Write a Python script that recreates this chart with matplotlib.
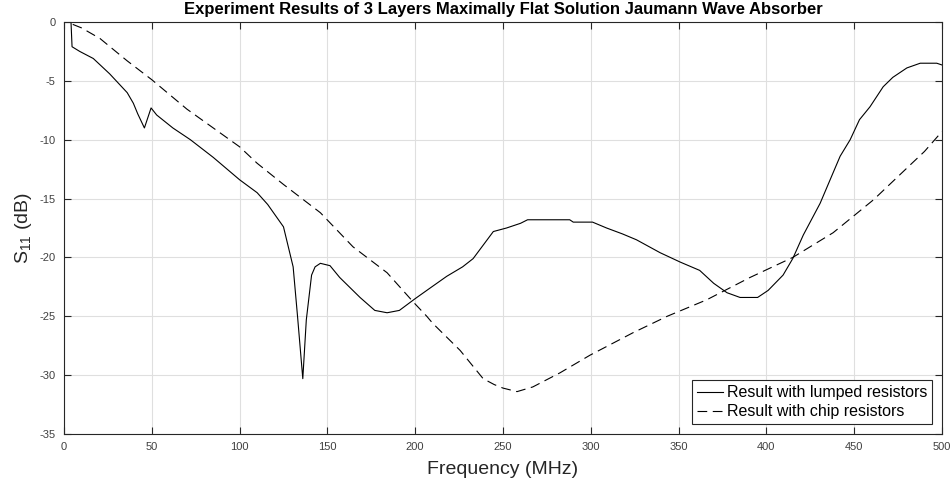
import matplotlib
matplotlib.use("Agg")
import matplotlib.pyplot as plt

plt.rcParams["font.family"] = ["Liberation Sans", "DejaVu Sans"]
plt.rcParams["mathtext.default"] = "regular"
plt.rcParams["axes.unicode_minus"] = False
plt.rcParams["lines.scale_dashes"] = False

# Measured S11, lumped resistors (MHz, dB)
lumped_f = [0, 4, 4.6, 9, 16.7, 26, 36, 39.5, 42, 45.8, 49.6, 52.8, 62, 72, 85,
            100, 110, 116, 125, 130.5, 133, 136, 138, 141, 143, 146, 151.5, 157,
            168.6, 177, 184, 191, 200, 208.5, 218, 227, 233, 241, 244.5, 252, 260,
            264, 288, 290, 301, 309, 318, 326, 339.5, 351, 362, 370, 377.6, 385,
            395, 401, 409.5, 415, 421, 430.6, 438, 442, 447.7, 453, 459, 466.5,
            472, 480, 487.6, 497, 500]
lumped_db = [0, 0, -2.1, -2.5, -3.1, -4.4, -6.0, -6.9, -7.8, -9.0, -7.3, -7.9, -9.0,
             -10.0, -11.5, -13.4, -14.5, -15.5, -17.4, -20.8, -25.0, -30.3, -25.3,
             -21.5, -20.8, -20.5, -20.7, -21.7, -23.4, -24.5, -24.7, -24.5, -23.5,
             -22.6, -21.6, -20.8, -20.1, -18.5, -17.8, -17.5, -17.1, -16.8, -16.8,
             -17.0, -17.0, -17.5, -18.0, -18.5, -19.6, -20.4, -21.1, -22.2, -23.0,
             -23.4, -23.4, -22.8, -21.5, -20.1, -18.1, -15.4, -12.8, -11.4, -10.0,
             -8.3, -7.2, -5.5, -4.7, -3.9, -3.5, -3.5, -3.65]

# Measured S11, chip resistors (MHz, dB)
chip_f = [5, 10, 20.5, 36, 50, 70, 85, 100, 110, 125, 146, 164.6, 184, 199, 206.6,
          210, 225.6, 238.7, 245, 250, 258, 267, 282.5, 299.6, 324, 343.5, 366,
          390.7, 415, 438, 461, 483.6, 490, 500]
chip_db = [-0.2, -0.5, -1.4, -3.3, -4.9, -7.4, -9.0, -10.6, -12.0, -13.8, -16.2,
           -19.1, -21.3, -23.8, -25.0, -25.6, -27.9, -30.3, -30.8, -31.1, -31.4,
           -31.0, -29.8, -28.3, -26.4, -25.0, -23.6, -21.7, -20.0, -17.9, -15.1,
           -11.9, -11.0, -9.3]

x_ticks = list(range(0, 501, 50))
y_ticks = list(range(-35, 1, 5))

fig = plt.figure(figsize=(9.52, 4.86), dpi=100)
ax = fig.add_axes([0.0672, 0.107, 0.9223, 0.8477])

ax.plot(lumped_f, lumped_db, color="black", lw=0.8, label="Result with lumped resistors")
ax.plot(chip_f, chip_db, color="black", lw=0.8, dashes=(7, 4),
        label="Result with chip resistors")

ax.set_xlim(0, 500)
ax.set_ylim(-35, 0)
ax.set_xticks(x_ticks)
ax.set_yticks(y_ticks)
ax.grid(True, color="#dfdfdf", lw=0.8)
ax.set_axisbelow(True)

for s in ax.spines.values():
    s.set_color("#262626")
    s.set_linewidth(0.8)
ax.tick_params(direction="in", length=5, width=0.8, color="#262626",
               labelcolor="#404040", labelsize=8, top=True, right=True, pad=6)

ax.set_title("Experiment Results of 3 Layers Maximally Flat Solution Jaumann Wave Absorber",
             fontsize=12, fontweight="bold", pad=5.5)
ax.set_xlabel("Frequency (MHz)", fontsize=14, color="#262626", labelpad=6)
ax.set_ylabel("S$_{11}$ (dB)", fontsize=14, color="#262626", labelpad=4)

leg = ax.legend(loc="lower right", bbox_to_anchor=(0.9886, 0.0243), borderaxespad=0,
                fontsize=11.5, fancybox=False, framealpha=1, edgecolor="#262626",
                handlelength=1.6, handletextpad=0.25, labelspacing=0.25, borderpad=0.3)
leg.get_frame().set_linewidth(0.8)

fig.savefig("out.png", dpi=100)
